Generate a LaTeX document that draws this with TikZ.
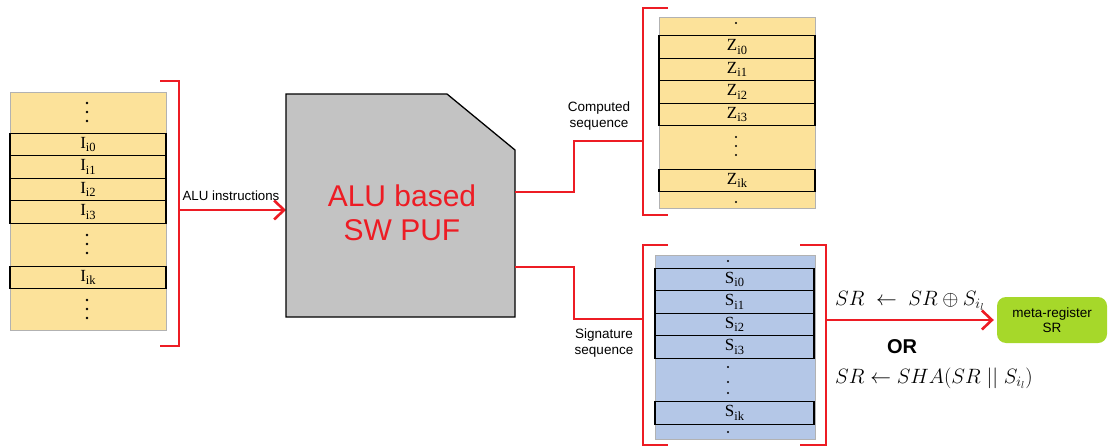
\documentclass[tikz,border=0pt]{standalone}
\usepackage{fontspec}
\setmainfont{Liberation Sans}
\newfontfamily\cellfont{Liberation Serif}
\usetikzlibrary{arrows.meta}
\definecolor{regyellow}{RGB}{252,226,154}
\definecolor{regblue}{RGB}{180,199,231}
\definecolor{pufgray}{RGB}{195,195,195}
\definecolor{pufred}{RGB}{237,28,36}
\definecolor{metagreen}{RGB}{166,216,42}
\newcommand{\regsub}[1]{\raisebox{-3.5pt}{\fontsize{12.5}{12.5}\selectfont #1}}
\tikzset{
  regcol/.style={inner sep=0pt, draw=gray!60, line width=0.5pt},
  cell/.style={draw=black, line width=1.3pt, inner sep=0pt, minimum height=22.5,
    font=\cellfont\fontsize{17}{17}\selectfont},
  redline/.style={draw=pufred, line width=2.6pt},
  redarrow/.style={redline, -{Straight Barb[length=10pt,width=19pt]}},
  seqlabel/.style={align=center, font=\fontsize{13.5}{16}\selectfont},
  formula/.style={anchor=base west, font=\fontsize{20}{20}\selectfont, inner sep=0pt}
}
\begin{document}
\begin{tikzpicture}[x=1pt,y=-1pt]
    \useasboundingbox (0,0) rectangle (1110,447);
    % Instruction register
    \node[regcol, fill=regyellow, minimum width=156, minimum height=238] (icol) at (88,211) {};
    \node[cell, fill=regyellow, minimum width=156] (i0) at (88,144.5) {I\regsub{i0}};
    \node[cell, fill=regyellow, minimum width=156] (i1) at (88,167) {I\regsub{i1}};
    \node[cell, fill=regyellow, minimum width=156] (i2) at (88,189.5) {I\regsub{i2}};
    \node[cell, fill=regyellow, minimum width=156] (i3) at (88,212) {I\regsub{i3}};
    \node[cell, fill=regyellow, minimum width=156] (ik) at (88,277.5) {I\regsub{ik}};
    \foreach \y in {103,112,121,235,244,253,300,309,318}
        \fill (87,\y) circle (1.3);
    % Bracket and arrow into the PUF
    \draw[redline] (160,81) -- (179,81) -- (179,346) -- (160,346);
    \coordinate (ibr) at (179,210);
    \coordinate (pufin) at (286,210);
    \draw[redarrow] (ibr) -- (pufin);
    \node[font=\fontsize{13.3}{13.3}\selectfont] (alulabel) at (231,196) {ALU instructions};
    % The PUF block
    \draw[fill=pufgray, line width=1.3pt] (286,94) -- (447,94) -- (515,150) -- (515,317) -- (286,317) -- cycle;
    \node[text=pufred, align=center, font=\fontsize{30}{34}\selectfont] (puf) at (402,213) {ALU based\\SW PUF};
    \coordinate (pufout1) at (515,192);
    \coordinate (pufout2) at (515,267);
    % Computed sequence
    \node[regcol, fill=regyellow, minimum width=156, minimum height=191] (zcol) at (737,112.5) {};
    \node[cell, fill=regyellow, minimum width=156] (z0) at (737,47) {Z\regsub{i0}};
    \node[cell, fill=regyellow, minimum width=156] (z1) at (737,69.5) {Z\regsub{i1}};
    \node[cell, fill=regyellow, minimum width=156] (z2) at (737,92) {Z\regsub{i2}};
    \node[cell, fill=regyellow, minimum width=156] (z3) at (737,114.5) {Z\regsub{i3}};
    \node[cell, fill=regyellow, minimum width=156] (zk) at (737,180.5) {Z\regsub{ik}};
    \foreach \y in {23,137,146,155,202}
        \fill (736,\y) circle (1.2);
    \draw[redline] (668,8) -- (643,8) -- (643,215) -- (668,215);
    \coordinate (zbr) at (643,141);
    \draw[redline] (pufout1) -- (574,192) |- (zbr);
    \node[seqlabel] (zlabel) at (599,116) {Computed\\sequence};
    % Signature sequence
    \node[regcol, fill=regblue, minimum width=160, minimum height=184] (scol) at (735,347) {};
    \node[cell, fill=regblue, minimum width=159] (s0) at (734.5,279.5) {S\regsub{i0}};
    \node[cell, fill=regblue, minimum width=159] (s1) at (734.5,302) {S\regsub{i1}};
    \node[cell, fill=regblue, minimum width=159] (s2) at (734.5,324.5) {S\regsub{i2}};
    \node[cell, fill=regblue, minimum width=159] (s3) at (734.5,347) {S\regsub{i3}};
    \node[cell, fill=regblue, minimum width=159] (sk) at (734.5,413) {S\regsub{ik}};
    \foreach \y in {261,367,382,393,432}
        \fill (728,\y) circle (1.2);
    \draw[redline] (668,245) -- (643,245) -- (643,445) -- (668,445);
    \draw[redline] (800,245) -- (826,245) -- (826,445) -- (800,445);
    \coordinate (sbr) at (643,319);
    \draw[redline] (pufout2) -- (574,267) |- (sbr);
    \node[seqlabel] (slabel) at (604,343) {Signature\\sequence};
    % Meta-register update
    \node[fill=metagreen, rounded corners=9pt, minimum width=110, minimum height=46,
        align=center, font=\fontsize{13.5}{15}\selectfont] (meta) at (1052,320) {meta-register\\SR};
    \coordinate (sout) at (826,320);
    \draw[redarrow, shorten >=3pt] (sout) -- (meta.west);
    \node[formula] (xorrule) at (835,305) {$SR \;\leftarrow\; SR \oplus S_{i_l}$};
    \node[font=\bfseries\fontsize{20}{20}\selectfont] (orlabel) at (902,347) {OR};
    \node[formula] (sharule) at (835,383) {$SR \leftarrow SHA(SR \;||\; S_{i_l})$};
\end{tikzpicture}
\end{document}
